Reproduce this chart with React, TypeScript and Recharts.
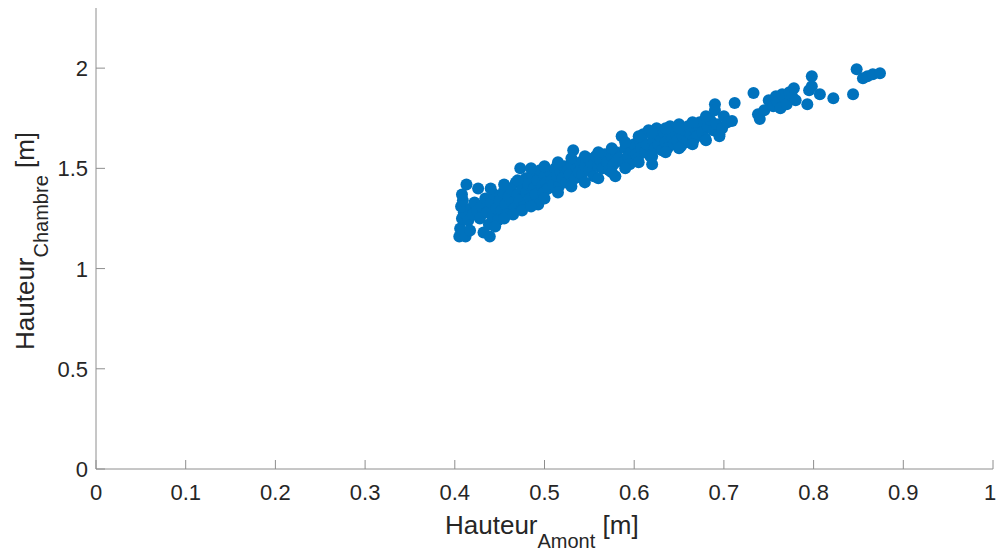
import { ScatterChart, Scatter, XAxis, YAxis, Label } from 'recharts';

const xTicks = [0, 0.1, 0.2, 0.3, 0.4, 0.5, 0.6, 0.7, 0.8, 0.9, 1];
const yTicks = [0, 0.5, 1, 1.5, 2];

// [hauteur amont, hauteur chambre] in metres
const mesures: [number, number][] = [
  [0.405, 1.16], [0.412, 1.16], [0.406, 1.2], [0.408, 1.25], [0.41, 1.28], [0.407, 1.31],
  [0.409, 1.34], [0.408, 1.37], [0.413, 1.42], [0.418, 1.3], [0.415, 1.24], [0.42, 1.27],
  [0.417, 1.19], [0.422, 1.33], [0.426, 1.4], [0.425, 1.29], [0.428, 1.25], [0.43, 1.31],
  [0.432, 1.18], [0.434, 1.35], [0.436, 1.28], [0.438, 1.22], [0.439, 1.16], [0.44, 1.33],
  [0.442, 1.26], [0.444, 1.37], [0.446, 1.3], [0.448, 1.24], [0.45, 1.34], [0.452, 1.29],
  [0.454, 1.38], [0.456, 1.32], [0.458, 1.27], [0.46, 1.36], [0.462, 1.4], [0.464, 1.33],
  [0.466, 1.3], [0.468, 1.43], [0.47, 1.37], [0.472, 1.34], [0.473, 1.5], [0.475, 1.4],
  [0.477, 1.31], [0.479, 1.45], [0.48, 1.38], [0.482, 1.42], [0.484, 1.35], [0.486, 1.47],
  [0.488, 1.4], [0.49, 1.37], [0.492, 1.44], [0.493, 1.32], [0.495, 1.49], [0.497, 1.41],
  [0.499, 1.38], [0.5, 1.46], [0.502, 1.43], [0.504, 1.4], [0.506, 1.48], [0.508, 1.44],
  [0.51, 1.42], [0.512, 1.5], [0.514, 1.46], [0.516, 1.41], [0.518, 1.48], [0.52, 1.45],
  [0.522, 1.51], [0.524, 1.43], [0.526, 1.49], [0.528, 1.47], [0.53, 1.52], [0.532, 1.59],
  [0.534, 1.45], [0.536, 1.5], [0.538, 1.48], [0.54, 1.53], [0.542, 1.47], [0.545, 1.51],
  [0.548, 1.55], [0.55, 1.49], [0.552, 1.53], [0.555, 1.46], [0.557, 1.56], [0.56, 1.51],
  [0.562, 1.54], [0.565, 1.5], [0.567, 1.57], [0.57, 1.53], [0.572, 1.49], [0.575, 1.56],
  [0.577, 1.52], [0.579, 1.46], [0.58, 1.58], [0.583, 1.55], [0.586, 1.66], [0.588, 1.53],
  [0.59, 1.6], [0.593, 1.56], [0.595, 1.52], [0.597, 1.59], [0.6, 1.62], [0.602, 1.57],
  [0.604, 1.55], [0.606, 1.64], [0.608, 1.6], [0.61, 1.67], [0.612, 1.58], [0.614, 1.62],
  [0.616, 1.69], [0.618, 1.56], [0.62, 1.52], [0.621, 1.64], [0.623, 1.6], [0.625, 1.7],
  [0.627, 1.62], [0.629, 1.66], [0.631, 1.59], [0.633, 1.68], [0.635, 1.63], [0.637, 1.6],
  [0.64, 1.71], [0.642, 1.65], [0.644, 1.62], [0.646, 1.68], [0.648, 1.64], [0.65, 1.72],
  [0.652, 1.61], [0.654, 1.66], [0.656, 1.69], [0.658, 1.63], [0.66, 1.71], [0.663, 1.67],
  [0.666, 1.64], [0.668, 1.7], [0.67, 1.66], [0.673, 1.73], [0.676, 1.68], [0.679, 1.65],
  [0.682, 1.71], [0.685, 1.74], [0.688, 1.69], [0.69, 1.82], [0.692, 1.72], [0.695, 1.67],
  [0.698, 1.7], [0.7, 1.76], [0.704, 1.73],
  [0.445, 1.21], [0.455, 1.25], [0.465, 1.27], [0.475, 1.29], [0.485, 1.31], [0.5, 1.35],
  [0.515, 1.38], [0.53, 1.41], [0.545, 1.43], [0.56, 1.45], [0.575, 1.48], [0.59, 1.5],
  [0.605, 1.53], [0.62, 1.56], [0.635, 1.58], [0.65, 1.6], [0.665, 1.62], [0.68, 1.64],
  [0.695, 1.66],
  [0.44, 1.4], [0.455, 1.42], [0.47, 1.44], [0.485, 1.5], [0.5, 1.51], [0.515, 1.53],
  [0.53, 1.55], [0.545, 1.56], [0.56, 1.58], [0.575, 1.6], [0.59, 1.63], [0.605, 1.66],
  [0.62, 1.68], [0.635, 1.7], [0.65, 1.7], [0.665, 1.73], [0.68, 1.76], [0.69, 1.79],
  [0.709, 1.736], [0.712, 1.826], [0.733, 1.876], [0.738, 1.77], [0.74, 1.746], [0.745, 1.79],
  [0.75, 1.84], [0.755, 1.81], [0.758, 1.86], [0.76, 1.83], [0.763, 1.8], [0.765, 1.87],
  [0.768, 1.85], [0.77, 1.82], [0.773, 1.88], [0.776, 1.86], [0.778, 1.9], [0.78, 1.84],
  [0.793, 1.82], [0.795, 1.89], [0.798, 1.96], [0.798, 1.91], [0.807, 1.87], [0.822, 1.85],
  [0.844, 1.87], [0.848, 1.995], [0.855, 1.95], [0.86, 1.96], [0.866, 1.97], [0.874, 1.975],
];

const data = mesures.map(([amont, chambre]) => ({ amont, chambre }));

const AXIS = '#8e8e8e';
const TEXT = '#262626';
const FONT = '"Liberation Sans", Arial, sans-serif';

const XTick = ({ x, y, payload }: any) => (
  <g>
    <line x1={x} y1={y} x2={x} y2={y - 9} stroke={AXIS} />
    <text
      x={payload.value === 1 ? x - 3 : x}
      y={y + 31}
      textAnchor="middle"
      fill={TEXT}
      fontSize={22}
      fontFamily={FONT}
    >
      {String(payload.value)}
    </text>
  </g>
);

const YTick = ({ x, y, payload }: any) => (
  <g>
    <line x1={x} y1={y} x2={x + 9} y2={y} stroke={AXIS} />
    <text x={x - 8} y={y + 8} textAnchor="end" fill={TEXT} fontSize={22} fontFamily={FONT}>
      {String(payload.value)}
    </text>
  </g>
);

const Dot = (props: any) => <circle cx={props.cx} cy={props.cy} r={6} fill="#0072BD" />;

export default function App() {
  return (
    <div style={{ position: 'absolute', left: 0, top: 0, background: '#fff' }}>
      <ScatterChart width={997} height={552} margin={{ top: 8, right: 4, left: 0, bottom: 0 }}>
        <XAxis
          type="number"
          dataKey="amont"
          domain={[0, 1]}
          ticks={xTicks}
          height={83}
          tickSize={0}
          tickMargin={0}
          tickLine={false}
          axisLine={{ stroke: AXIS }}
          tick={<XTick />}
          interval={0}
        >
          <Label
            content={() => (
              <text x={445} y={534} fill={TEXT} fontSize={26} fontFamily={FONT}>
                Hauteur
                <tspan fontSize={20} dy={14}>Amont</tspan>
                <tspan dy={-14}> [m]</tspan>
              </text>
            )}
          />
        </XAxis>
        <YAxis
          type="number"
          dataKey="chambre"
          domain={[0, 2.3]}
          ticks={yTicks}
          width={96}
          tickSize={0}
          tickMargin={0}
          tickLine={false}
          axisLine={{ stroke: AXIS }}
          tick={<YTick />}
          interval={0}
        >
          <Label
            content={() => (
              <text transform="translate(34,350) rotate(-90)" fill={TEXT} fontSize={26} fontFamily={FONT}>
                Hauteur
                <tspan fontSize={20} dy={14}>Chambre</tspan>
                <tspan dy={-14}> [m]</tspan>
              </text>
            )}
          />
        </YAxis>
        <Scatter data={data} shape={<Dot />} isAnimationActive={false} />
      </ScatterChart>
    </div>
  );
}
